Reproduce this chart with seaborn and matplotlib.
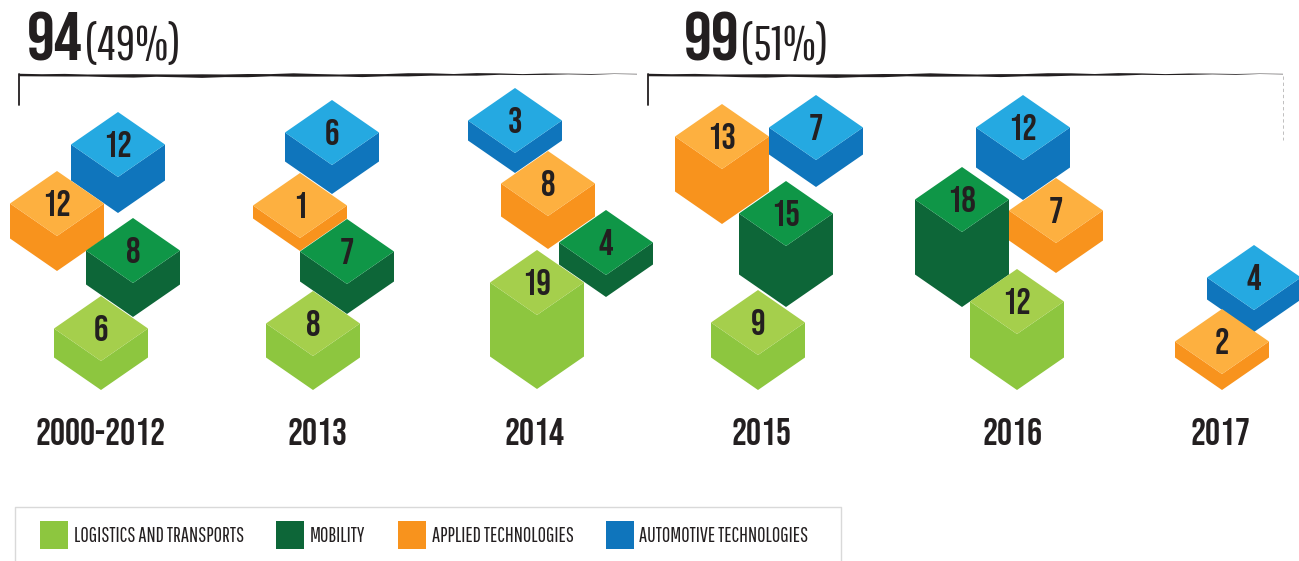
import matplotlib
matplotlib.use("Agg")
import matplotlib.pyplot as plt
import pandas as pd
import seaborn as sns

# chart values
periods = ["2000-2012", "2013", "2014", "2015", "2016", "2017"]
categories = ["LOGISTICS AND TRANSPORTS", "MOBILITY", "APPLIED TECHNOLOGIES", "AUTOMOTIVE TECHNOLOGIES"]
logistics = [6, 8, 19, 9, 12, 0]
mobility = [8, 7, 4, 15, 18, 0]
applied = [12, 1, 8, 13, 7, 2]
automotive = [12, 6, 3, 7, 12, 4]
totals = ["94", "99"]
shares = ["(49%)", "(51%)"]

# layout, one (center x, apex y, side height) per period, None where there is no cube
logistics_pos = [(101, 296, 29), (313, 291, 34), (537, 250, 74), (758, 290, 35), (1017, 269, 56), None]
mobility_pos = [(133, 218, 34), (347, 219, 30), (606, 210, 22), (786, 181, 61), (962, 167, 75), None]
applied_pos = [(57, 171, 35), (300, 173, 13), (548, 151, 33), (722, 104, 55), (1056, 178, 30), (1222, 309, 16)]
automotive_pos = [(118, 112, 36), (332, 100, 29), (515, 88, 20), (816, 95, 27), (1023, 95, 40), (1254, 245, 22)]
period_x = [101, 318, 535, 761, 1013, 1221]
swatch_x = [54, 290, 412, 620]
legend_text_x = [74, 310, 432, 639]

top_colors = ["#a5cf4c", "#0f9647", "#fdb040", "#25a9e1"]
side_colors = ["#8dc63f", "#0d6638", "#f8931d", "#0f75bc"]
ink = "#231f20"
heavy = ["Bebas Neue", "Liberation Sans", "DejaVu Sans"]
thin = ["Pathway Gothic One", "Liberation Sans", "DejaVu Sans"]

HALF_W = 47
HALF_H = 32.5

# brush thickness along the top of the brackets, left to right
brush = [2.5, 2.2, 2.6, 2.0, 2.8, 3.4, 2.4, 2.8, 3.6, 2.6, 3.2, 2.2, 3.4, 2.6, 2.0, 3.0, 2.2, 3.2, 2.4, 1.6, 2.6, 1.4, 1.0, 1.4, 0.7, 0.8, 0.4, 0.5]
wobble = [0.0, 0.3, 0.2, 0.5, 0.8, 0.9, 0.6, 0.9, 1.1, 0.8, 0.6, 0.2, 0.0, 0.3, 0.5, 0.6, 0.2, -0.2, -0.5, -0.2, -0.6, -0.9, -0.4, -0.8, -1.0, -0.6, -1.2, -0.9]


def cube(ax, cx, apex, side, value, top, face):
    mid = apex + HALF_H
    ax.fill([cx - HALF_W, cx, cx + HALF_W, cx + HALF_W, cx, cx - HALF_W],
            [mid, mid + HALF_H, mid, mid + side, mid + HALF_H + side, mid + side],
            color=face, lw=0)
    ax.fill([cx, cx + HALF_W, cx, cx - HALF_W], [apex, mid, mid + HALF_H, mid],
            color=top, lw=0)
    ax.text(cx, mid + 12.5, str(value), color=ink, fontsize=26, family=heavy,
            ha="center", va="baseline")


def rough_bracket(ax, x0, x1):
    step = (x1 - x0) / (len(brush) - 1)
    xs = [x0 + i * step for i in range(len(brush))]
    upper = [75 + o - w / 2 for o, w in zip(wobble, brush)]
    lower = [75 + o + w / 2 for o, w in zip(wobble, brush)]
    ax.fill(xs + xs[::-1], upper + lower[::-1], color=ink, lw=0)
    ax.plot([x0, x0], [74, 105], color=ink, lw=1.3)


sns.set_theme(style="white")
plt.rcParams["font.family"] = heavy

fig = plt.figure(figsize=(12.99, 5.61), dpi=100)
ax = fig.add_axes([0, 0, 1, 1])

# back to front so the overlaps come out right
for k, values, positions in [(3, automotive, automotive_pos), (2, applied, applied_pos),
                             (1, mobility, mobility_pos), (0, logistics, logistics_pos)]:
    for value, pos in zip(values, positions):
        if pos is not None:
            cube(ax, pos[0], pos[1], pos[2], value, top_colors[k], side_colors[k])

for x, label in zip(period_x, periods):
    ax.text(x, 445, label, color=ink, fontsize=27, family=heavy, ha="center", va="baseline")

# header totals and brackets
for x, x2, total, share in zip([27, 684], [85, 741], totals, shares):
    ax.text(x, 60, total, color=ink, fontsize=50, family=heavy, ha="left", va="baseline")
    ax.text(x2, 60, share, color=ink, fontsize=34.5, family=thin, ha="left", va="baseline")

rough_bracket(ax, 19, 637)
rough_bracket(ax, 648, 1283)
ax.plot([1283, 1283], [76, 140], color=ink, lw=0.4, ls=(0, (6, 5)), alpha=0.5)

# legend
ax.plot([15, 15, 841, 841], [561, 507, 507, 561], color="#d9d9d9", lw=1)
legend_df = pd.DataFrame({"x": swatch_x, "y": [535] * 4, "category": categories})
sns.scatterplot(data=legend_df, x="x", y="y", hue="category", palette=side_colors, marker="s",
                s=400, linewidth=0, legend=False, ax=ax)
for x, label in zip(legend_text_x, categories):
    ax.text(x, 542, label, color=ink, fontsize=14.8, family=thin, ha="left", va="baseline")

ax.set_xlim(0, 1299)
ax.set_ylim(561, 0)
ax.axis("off")

fig.savefig("out.png", dpi=100)
